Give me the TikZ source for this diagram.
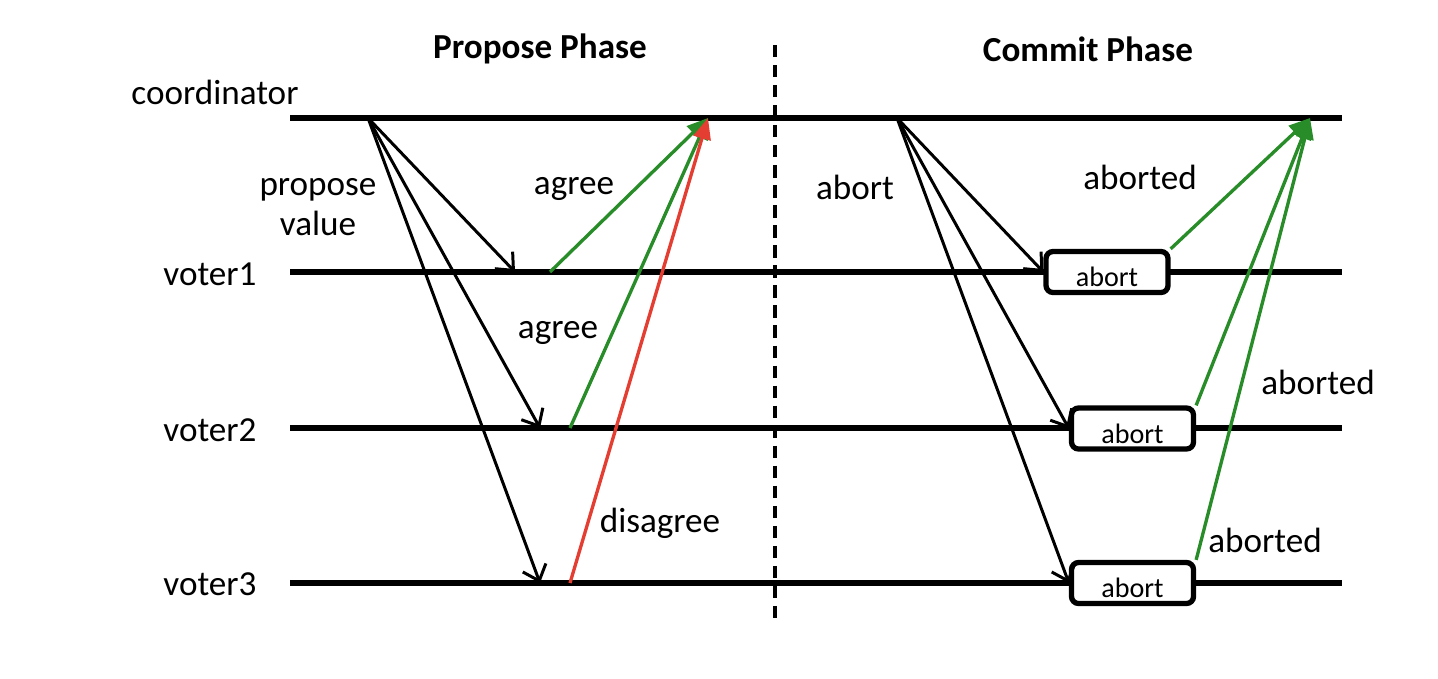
\documentclass[tikz,border=0pt]{standalone}
\usepackage{fontspec}
\setmainfont{Carlito}
\usetikzlibrary{arrows.meta}
\definecolor{okgreen}{RGB}{40,140,40}
\definecolor{nored}{RGB}{228,62,50}

\begin{document}
\begin{tikzpicture}[x=1cm,y=-1cm,font=\fontsize{10}{11.5}\selectfont,
    timeline/.style={line width=1.5pt},
    msg/.style={-{Straight Barb[length=4pt,width=7pt]},line width=0.85pt},
    reply/.style={-{Triangle[length=6pt,width=5pt]},line width=0.95pt},
    abortbox/.style={draw,line width=1.5pt,rounded corners=2pt,fill=white,
        minimum width=1.22cm,minimum height=0.41cm,inner sep=0pt,
        text height=8.3pt,text depth=0pt,
        font=\fontsize{8}{9}\selectfont}]
    \useasboundingbox (0,0) rectangle (14.38,6.78);

    % time lines
    \coordinate (c-start) at (2.9,1.18);   \coordinate (c-end) at (13.42,1.18);
    \coordinate (v1-start) at (2.9,2.72);  \coordinate (v1-end) at (13.42,2.72);
    \coordinate (v2-start) at (2.9,4.28);  \coordinate (v2-end) at (13.42,4.28);
    \coordinate (v3-start) at (2.9,5.83);  \coordinate (v3-end) at (13.42,5.83);
    \foreach \t in {c,v1,v2,v3}
        \draw[timeline] (\t-start) -- (\t-end);

    \node (coord) at (2.15,0.92) {coordinator};
    \node (voter1) at (2.1,2.74) {voter1};
    \node (voter2) at (2.1,4.3) {voter2};
    \node (voter3) at (2.1,5.84) {voter3};

    % phase split
    \coordinate (split-top) at (7.75,0.45);
    \coordinate (split-bot) at (7.75,6.2);
    \draw[dash pattern=on 3.5pt off 2.2pt,line width=1pt] (split-top) -- (split-bot);
    \node[font=\fontsize{10}{12}\selectfont\bfseries] (propose) at (5.4,0.49) {Propose Phase};
    \node[font=\fontsize{10}{12}\selectfont\bfseries] (commit) at (10.88,0.49) {Commit Phase};

    % propose phase
    \coordinate (p-out) at (3.68,1.18);
    \coordinate (p-v1) at (5.15,2.72);
    \coordinate (p-v2) at (5.4,4.28);
    \coordinate (p-v3) at (5.4,5.83);
    \path[msg] (p-out) edge (p-v1) edge (p-v2) edge (p-v3);
    \node[align=center] (proposeval) at (3.18,2.07) {propose\\value};

    \coordinate (a-v1) at (5.5,2.72);
    \coordinate (a-v2) at (5.7,4.28);
    \coordinate (d-v3) at (5.7,5.83);
    \coordinate (p-in) at (7.08,1.18);
    \path[reply,okgreen] (a-v1) edge (p-in) (a-v2) edge (p-in);
    \path[reply,nored] (d-v3) edge (p-in);
    \node (agree1) at (5.74,1.89) {agree};
    \node (agree2) at (5.58,3.33) {agree};
    \node (disagree) at (6.6,5.23) {disagree};

    % commit phase
    \node[abortbox] (box1) at (11.07,2.72) {abort};
    \node[abortbox] (box2) at (11.325,4.285) {abort};
    \node[abortbox] (box3) at (11.325,5.83) {abort};
    \coordinate (c-out) at (8.97,1.18);
    \path[msg] (c-out) edge (box1.west) edge (box2.west) edge (box3.west);
    \node (abortlbl) at (8.55,1.87) {abort};

    \coordinate (c-in) at (13.1,1.18);
    \path[reply,okgreen] (box1.north east) edge (c-in)
        (box2.north east) edge (c-in) (box3.north east) edge (c-in);
    \node (aborted1) at (11.4,1.77) {aborted};
    \node (aborted2) at (13.18,3.82) {aborted};
    \node (aborted3) at (12.65,5.4) {aborted};
\end{tikzpicture}
\end{document}
